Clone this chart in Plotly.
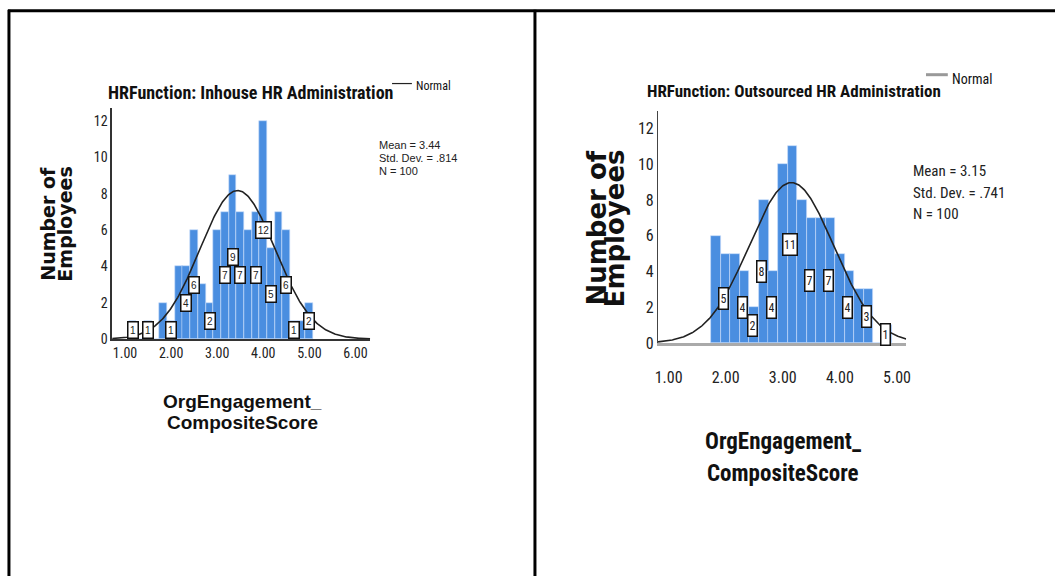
import numpy as np
import plotly.graph_objects as go

W, H = 1060, 586

# ---------------- data ----------------
bin_width = 1 / 6

left_bins = [1.167, 1.333, 1.500, 1.667, 1.833, 2.000, 2.167, 2.333, 2.500, 2.667, 2.833, 3.000,
             3.167, 3.333, 3.500, 3.667, 3.833, 4.000, 4.167, 4.333, 4.500, 4.667, 4.833, 5.000]
left_counts = [1, 0, 1, 0, 2, 1, 4, 4, 6, 3, 2, 6, 7, 9, 7, 6, 7, 12, 5, 7, 6, 1, 1, 2]
left_labelled = [1.167, 1.500, 2.000, 2.333, 2.500, 2.833, 3.167, 3.333, 3.500, 3.833, 4.000,
                 4.167, 4.500, 4.667, 5.000]
left_mean, left_sd, left_n = 3.44, 0.814, 100

right_bins = [1.833, 2.000, 2.167, 2.333, 2.500, 2.667, 2.833, 3.000, 3.167, 3.333, 3.500,
              3.667, 3.833, 4.000, 4.167, 4.333, 4.500, 4.667, 4.833]
right_counts = [6, 5, 5, 4, 2, 8, 4, 10, 11, 8, 7, 7, 7, 5, 4, 3, 3, 0, 1]
right_labelled = [2.000, 2.333, 2.500, 2.667, 2.833, 3.167, 3.500, 3.833, 4.167, 4.500, 4.833]
right_mean, right_sd, right_n = 3.15, 0.741, 100

left_xticks = [1, 2, 3, 4, 5, 6]
right_xticks = [1, 2, 3, 4, 5]
xtick_text = ["1.00", "2.00", "3.00", "4.00", "5.00", "6.00"]
yticks = [0, 2, 4, 6, 8, 10, 12]

left_title = "HRFunction: Inhouse HR Administration"
right_title = "HRFunction: Outsourced HR Administration"
x_title_lines = ["OrgEngagement_", "CompositeScore"]
y_title_lines = ["Number of", "Employees"]

# ---------------- helpers ----------------
NARROW = "Liberation Sans Narrow, Arial Narrow, Roboto Condensed, DejaVu Sans Condensed, sans-serif"
ARIAL = "Liberation Sans, Arial, sans-serif"
WIDE = "DejaVu Sans, Verdana, sans-serif"
BAR = "#4A8EE0"


def px(x):
    return x / W


def py(y):
    return 1 - y / H


def normal_curve(mean, sd, n, lo, hi):
    xs = np.linspace(lo, hi, 300)
    ys = n * bin_width * np.exp(-0.5 * ((xs - mean) / sd) ** 2) / (sd * np.sqrt(2 * np.pi))
    return xs, ys


fig = go.Figure()

L_XR = [0.72, 6.32]
R_XR = [0.815, 5.16]

# left histogram
fig.add_trace(go.Bar(x=left_bins, y=left_counts, width=bin_width, marker=dict(color=BAR,
              line=dict(color="rgba(200,220,250,0.8)", width=0.8)), xaxis="x", yaxis="y",
              showlegend=False, hoverinfo="skip"))
cx, cy = normal_curve(left_mean, left_sd, left_n, L_XR[0], L_XR[1])
fig.add_trace(go.Scatter(x=cx, y=cy, mode="lines", line=dict(color="#222", width=1.6),
                         xaxis="x", yaxis="y", showlegend=False, hoverinfo="skip"))

# right histogram
fig.add_trace(go.Bar(x=right_bins, y=right_counts, width=bin_width, marker=dict(color=BAR,
              line=dict(color="rgba(200,220,250,0.8)", width=0.8)), xaxis="x2", yaxis="y2",
              showlegend=False, hoverinfo="skip"))
cx2, cy2 = normal_curve(right_mean, right_sd, right_n, R_XR[0], R_XR[1])
fig.add_trace(go.Scatter(x=cx2, y=cy2, mode="lines", line=dict(color="#222", width=1.6),
                         xaxis="x2", yaxis="y2", showlegend=False, hoverinfo="skip"))

ann = []
# bar labels
for b, c in zip(left_bins, left_counts):
    if b in left_labelled:
        ann.append(dict(x=b, y=c / 2, xref="x", yref="y", text=str(c), showarrow=False,
                        font=dict(family=ARIAL, size=10, color="#222"), bgcolor="white",
                        bordercolor="#111", borderwidth=1.5, borderpad=1,
                        width=12 if c >= 10 else 7, height=13))
for b, c in zip(right_bins, right_counts):
    if b in right_labelled:
        ann.append(dict(x=b, y=c / 2, xref="x2", yref="y2", text=str(c), showarrow=False,
                        xshift=-2,
                        font=dict(family=NARROW, size=12, color="#222"), bgcolor="white",
                        bordercolor="#111", borderwidth=1.5, borderpad=1,
                        width=11 if c >= 10 else 6, height=18))

# titles
ann.append(dict(x=px(104), y=py(94), xref="paper", yref="paper", xanchor="left", yanchor="middle",
                text=left_title, showarrow=False, font=dict(family=NARROW, size=18, color="#111", weight="bold")))
ann.append(dict(x=px(414), y=py(88), xref="paper", yref="paper", xanchor="left", yanchor="middle",
                text="Normal", showarrow=False, font=dict(family=NARROW, size=12, color="#111")))
ann.append(dict(x=px(647), y=py(93), xref="paper", yref="paper", xanchor="left", yanchor="middle",
                text=right_title, showarrow=False, font=dict(family=NARROW, size=17, color="#111", weight="bold")))
ann.append(dict(x=px(954), y=py(80), xref="paper", yref="paper", xanchor="left", yanchor="middle",
                text="Normal", showarrow=False, font=dict(family=NARROW, size=14, color="#111")))

# stats
left_stats = [f"Mean = {left_mean:.2f}", "Std. Dev. = .814", f"N = {left_n}"]
for i, t in enumerate(left_stats):
    ann.append(dict(x=px(377), y=py(148 + 13 * i), xref="paper", yref="paper", xanchor="left",
                    yanchor="middle", text=t, showarrow=False, font=dict(family=ARIAL, size=11, color="#222")))
right_stats = [f"Mean = {right_mean:.2f}", "Std. Dev. = .741", f"N = {right_n}"]
for i, t in enumerate(right_stats):
    ann.append(dict(x=px(915), y=py(174 + 22 * i), xref="paper", yref="paper", xanchor="left",
                    yanchor="middle", text=t, showarrow=False, font=dict(family=NARROW, size=15, color="#222")))

# axis titles
for i, t in enumerate(x_title_lines):
    ann.append(dict(x=px(241), y=py(408 + 22 * i), xref="paper", yref="paper", xanchor="center",
                    yanchor="middle", text=t, showarrow=False,
                    font=dict(family=ARIAL, size=19, color="#111", weight="bold")))
    ann.append(dict(x=px(786), y=py(449 + 33 * i), xref="paper", yref="paper", xanchor="center",
                    yanchor="middle", text=t, showarrow=False,
                    font=dict(family=NARROW, size=23, color="#111", weight="bold")))
for i, t in enumerate(y_title_lines):
    ann.append(dict(x=px(45 + 18 * i), y=py(228), xref="paper", yref="paper", xanchor="center",
                    yanchor="middle", text=t, showarrow=False, textangle=-90,
                    font=dict(family=WIDE, size=19, color="#111", weight="bold")))
    ann.append(dict(x=px(599 + 18 * i), y=py(232), xref="paper", yref="paper", xanchor="center",
                    yanchor="middle", text=t, showarrow=False, textangle=-90,
                    font=dict(family=WIDE, size=26, color="#111", weight="bold")))

shapes = [
    # table borders
    dict(type="line", xref="paper", yref="paper", x0=px(5), x1=px(1060), y0=py(11), y1=py(11),
         line=dict(color="black", width=3)),
    dict(type="line", xref="paper", yref="paper", x0=px(6), x1=px(6), y0=py(10), y1=py(586),
         line=dict(color="black", width=3)),
    dict(type="line", xref="paper", yref="paper", x0=px(536), x1=px(536), y0=py(10), y1=py(586),
         line=dict(color="black", width=3)),
    # legend samples
    dict(type="line", xref="paper", yref="paper", x0=px(392), x1=px(412), y0=py(85), y1=py(85),
         line=dict(color="#222", width=1.2)),
    dict(type="line", xref="paper", yref="paper", x0=px(930), x1=px(952), y0=py(76), y1=py(76),
         line=dict(color="#999", width=3)),
]

axis_common = dict(showgrid=False, zeroline=False, ticks="", showline=True, mirror=False, fixedrange=True)

fig.update_layout(
    width=W, height=H,
    margin=dict(l=0, r=0, t=0, b=0),
    paper_bgcolor="white", plot_bgcolor="white",
    showlegend=False, bargap=0,
    annotations=ann, shapes=shapes,
    xaxis=dict(domain=[px(110), px(370)], range=L_XR, tickvals=left_xticks, ticktext=xtick_text,
               linecolor="#333", linewidth=1.5, anchor="y",
               tickfont=dict(family=NARROW, size=14, color="#222"), **axis_common),
    yaxis=dict(domain=[py(345), py(110)], range=[0, 12.7], tickvals=yticks,
               linecolor="#333", linewidth=1.5, anchor="x",
               tickfont=dict(family=NARROW, size=14, color="#222"), **axis_common),
    xaxis2=dict(domain=[px(660), px(910)], range=R_XR, tickvals=right_xticks, ticktext=xtick_text[:5],
                linecolor="#aaa", linewidth=2.5, anchor="y2", ticklabelstandoff=18,
                tickfont=dict(family=NARROW, size=16, color="#222"), **axis_common),
    yaxis2=dict(domain=[py(349), py(113)], range=[0, 12.97], tickvals=yticks,
                linecolor="#444", linewidth=1.2, anchor="x2",
                tickfont=dict(family=NARROW, size=16, color="#222"), **axis_common),
)

fig.write_html("out.html", config={"displayModeBar": False},
               post_script="document.body.style.margin='0';document.body.style.overflow='hidden';")
